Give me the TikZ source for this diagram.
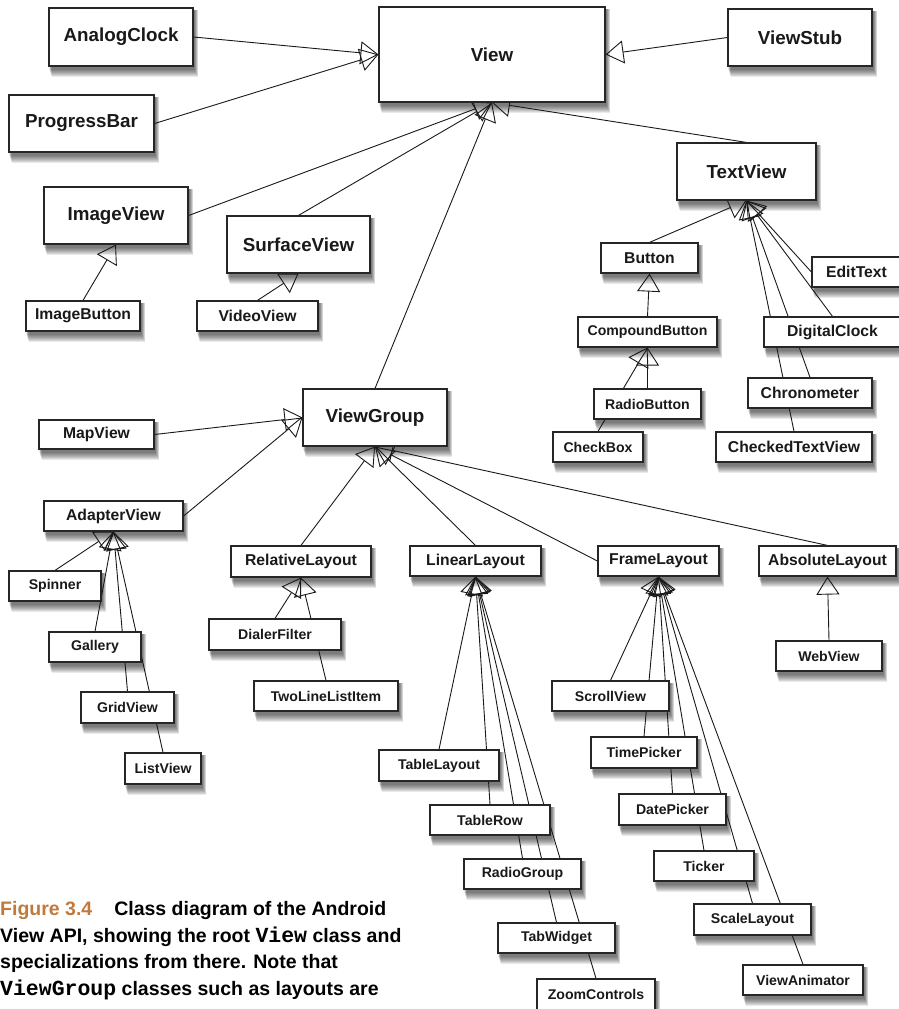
\documentclass[tikz,border=0pt]{standalone}
\usepackage{fontspec}
\setmainfont{Liberation Sans}
\newfontfamily\capmono{Liberation Mono}
\usetikzlibrary{arrows.meta,backgrounds}
\definecolor{figorange}{RGB}{192,122,62}
\tikzset{
  box/.style={draw=black!85, line width=1.2pt, fill=white, inner sep=0pt, text=black!90},
  L/.style={font=\bfseries\fontsize{18.8}{20}\selectfont},
  M/.style={font=\bfseries\fontsize{15.7}{18}\selectfont},
  S/.style={font=\bfseries\fontsize{14.1}{16}\selectfont},
  gen/.style={draw=black!90, line width=0.9pt, -{Triangle[open, length=18pt, width=23pt]}},
  captext/.style={anchor=base west, inner sep=0pt, font=\bfseries\fontsize{19.5}{26}\selectfont},
  softshadow/.style={fill=black, opacity=0.085},
}
\newcommand\classbox[7]{%
  \pgfmathsetmacro\bxcx{(#2+#4)/2}\pgfmathsetmacro\bxcy{(#3+#5)/2}%
  \pgfmathsetmacro\bxw{#4-#2}\pgfmathsetmacro\bxh{#5-#3}%
  \node[box,#6,minimum width=\bxw pt,minimum height=\bxh pt] (#1) at (\bxcx,\bxcy) {#7};}
\begin{document}
\begin{tikzpicture}[x=1pt,y=-1pt]
\useasboundingbox (0,0) rectangle (898,1009);
% ---- class boxes ----
\classbox{View}{379}{7}{605}{102}{L}{View}
\classbox{AnalogClock}{49}{8}{193}{66}{L}{AnalogClock}
\classbox{ProgressBar}{9}{95}{154}{152}{L}{ProgressBar}
\classbox{ViewStub}{728}{9}{872}{66}{L}{ViewStub}
\classbox{ImageView}{44}{187}{188}{244}{L}{ImageView}
\classbox{SurfaceView}{227}{216}{370}{273}{L}{SurfaceView}
\classbox{TextView}{677}{143}{816}{200}{L}{TextView}
\classbox{ImageButton}{26}{301}{140}{331}{M}{ImageButton}
\classbox{VideoView}{197}{301}{318}{331}{M}{VideoView}
\classbox{Button}{601}{243}{698}{273}{M}{Button}
\classbox{EditText}{812}{257}{901}{287}{M}{EditText}
\classbox{CompoundButton}{578}{317}{717}{347}{S}{CompoundButton}
\classbox{DigitalClock}{764}{317}{901}{347}{M}{DigitalClock}
\classbox{RadioButton}{594}{389}{701}{419}{S}{RadioButton}
\classbox{CheckBox}{553}{432}{643}{462}{S}{CheckBox}
\classbox{Chronometer}{748}{378}{872}{408}{M}{Chronometer}
\classbox{CheckedTextView}{716}{432}{872}{462}{M}{CheckedTextView}
\classbox{ViewGroup}{303}{389}{447}{446}{L}{ViewGroup}
\classbox{MapView}{39}{420}{154}{449}{M}{MapView}
\classbox{AdapterView}{44}{501}{183}{531}{M}{AdapterView}
\classbox{Spinner}{9}{571}{101}{601}{S}{Spinner}
\classbox{Gallery}{49}{632}{141}{662}{S}{Gallery}
\classbox{GridView}{81}{692}{174}{723}{S}{GridView}
\classbox{ListView}{125}{753}{201}{784}{S}{ListView}
\classbox{RelativeLayout}{231}{546}{371}{577}{M}{RelativeLayout}
\classbox{DialerFilter}{209}{619}{341}{650}{S}{DialerFilter}
\classbox{TwoLineListItem}{254}{681}{398}{711}{S}{TwoLineListItem}
\classbox{LinearLayout}{410}{546}{541}{576}{M}{LinearLayout}
\classbox{FrameLayout}{598}{546}{719}{576}{M}{FrameLayout}
\classbox{AbsoluteLayout}{759}{546}{896}{576}{M}{AbsoluteLayout}
\classbox{WebView}{776}{641}{882}{671}{S}{WebView}
\classbox{ScrollView}{552}{681}{669}{711}{S}{ScrollView}
\classbox{TimePicker}{591}{737}{697}{768}{S}{TimePicker}
\classbox{DatePicker}{619}{794}{726}{825}{S}{DatePicker}
\classbox{Ticker}{654}{851}{754}{881}{S}{Ticker}
\classbox{ScaleLayout}{694}{904}{811}{935}{S}{ScaleLayout}
\classbox{ViewAnimator}{743}{965}{863}{995}{S}{ViewAnimator}
\classbox{TableLayout}{379}{750}{499}{781}{S}{TableLayout}
\classbox{TableRow}{430}{805}{550}{835}{S}{TableRow}
\classbox{RadioGroup}{464}{859}{581}{889}{S}{RadioGroup}
\classbox{TabWidget}{498}{923}{615}{953}{S}{TabWidget}
\classbox{ZoomControls}{537}{979}{655}{1010}{S}{ZoomControls}
% ---- caption ----
\node[captext] (cap1) at (0,915) {{\color{figorange}Figure 3.4}\hspace{22pt}Class diagram of the Android};
\node[captext] (cap2) at (0,942) {View API, showing the root {\capmono\fontsize{21.5}{26}\selectfont View} class and};
\node[captext] (cap3) at (0,968) {specializations from there. Note that};
\node[captext] (cap4) at (0,995) {{\capmono\fontsize{21.5}{26}\selectfont ViewGroup} classes such as layouts are};
% ---- shadows and connectors behind the boxes ----
\begin{scope}[on background layer]
  \foreach \n in {View,AnalogClock,ProgressBar,ViewStub,ImageView,SurfaceView,TextView,
    ImageButton,VideoView,Button,EditText,CompoundButton,DigitalClock,RadioButton,CheckBox,
    Chronometer,CheckedTextView,ViewGroup,MapView,AdapterView,Spinner,Gallery,GridView,ListView,
    RelativeLayout,DialerFilter,TwoLineListItem,LinearLayout,FrameLayout,AbsoluteLayout,WebView,
    ScrollView,TimePicker,DatePicker,Ticker,ScaleLayout,ViewAnimator,TableLayout,TableRow,
    RadioGroup,TabWidget,ZoomControls}{
    \foreach \k in {0,...,7}{
      \fill[softshadow] ([shift={(1+0.3*\k,3)}]\n.north west) rectangle ([shift={(1+0.55*\k,3+\k)}]\n.south east);
    }
  }
  % to View
  \draw[gen] (AnalogClock.east) -- (View.west);
  \draw[gen] (ProgressBar.east) -- (View.west);
  \draw[gen] (ViewStub.west) -- (View.east);
  \draw[gen] (ImageView.east) -- (View.south);
  \draw[gen] (SurfaceView.north) -- (View.south);
  \draw[gen] (ViewGroup.north) -- (View.south);
  \draw[gen] (TextView.north) -- (View.south);
  % image / surface
  \draw[gen] (ImageButton.north) -- (ImageView.south);
  \draw[gen] (VideoView.north) -- (SurfaceView.south);
  % TextView family
  \draw[gen] (Button.north) -- (TextView.south);
  \draw[gen] (EditText.west) -- (TextView.south);
  \draw[gen] (DigitalClock.north) -- (TextView.south);
  \draw[gen] (Chronometer.north) -- (TextView.south);
  \draw[gen] (CheckedTextView.north) -- (TextView.south);
  \draw[gen] (CompoundButton.north) -- (Button.south);
  \draw[gen] (RadioButton.north) -- (CompoundButton.south);
  \draw[gen] (CheckBox.north) -- (CompoundButton.south);
  % ViewGroup family
  \draw[gen] (MapView.east) -- (ViewGroup.west);
  \draw[gen] (AdapterView.east) -- (ViewGroup.west);
  \draw[gen] (RelativeLayout.north) -- (ViewGroup.south);
  \draw[gen] (LinearLayout.north) -- (ViewGroup.south);
  \draw[gen] (FrameLayout.west) -- (ViewGroup.south);
  \draw[gen] (AbsoluteLayout.north) -- (ViewGroup.south);
  % AdapterView
  \foreach \c in {Spinner,Gallery,GridView,ListView}
    \draw[gen] (\c.north) -- (AdapterView.south);
  % RelativeLayout
  \foreach \c in {DialerFilter,TwoLineListItem}
    \draw[gen] (\c.north) -- (RelativeLayout.south);
  % LinearLayout
  \foreach \c in {TableLayout,TableRow,RadioGroup,TabWidget,ZoomControls}
    \draw[gen] (\c.north) -- (LinearLayout.south);
  % FrameLayout
  \foreach \c in {ScrollView,TimePicker,DatePicker,Ticker,ScaleLayout,ViewAnimator}
    \draw[gen] (\c.north) -- (FrameLayout.south);
  % AbsoluteLayout
  \draw[gen] (WebView.north) -- (AbsoluteLayout.south);
\end{scope}
\end{tikzpicture}
\end{document}
